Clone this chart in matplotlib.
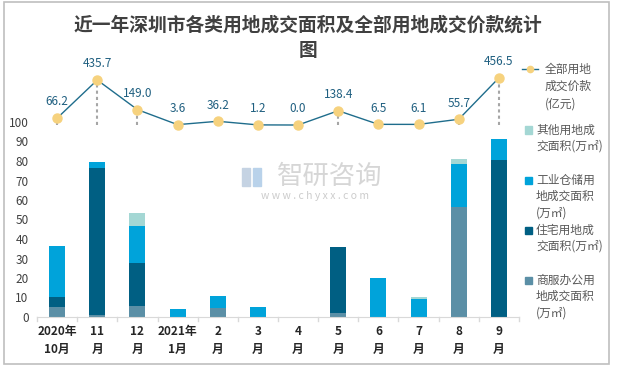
import numpy as np
import matplotlib.pyplot as plt
from matplotlib.patches import Rectangle
from matplotlib.lines import Line2D

plt.rcParams['font.family'] = ['Noto Sans CJK SC', 'DejaVu Sans']

# data
months = ["2020年\n10月", "11\n月", "12\n月", "2021年\n1月", "2\n月", "3\n月",
          "4\n月", "5\n月", "6\n月", "7\n月", "8\n月", "9\n月"]
commercial = [5.0, 0.9, 5.5, 0.0, 4.5, 0.0, 0.0, 2.1, 0.0, 0.0, 56.4, 0.0]
residential = [5.1, 75.6, 22.1, 0.0, 0.0, 0.0, 0.0, 33.7, 0.0, 0.0, 0.0, 80.6]
industrial = [26.3, 3.1, 19.1, 3.9, 6.1, 5.0, 0.0, 0.0, 19.9, 9.1, 22.2, 10.8]
other = [0.0, 0.0, 6.6, 0.0, 0.0, 0.0, 0.0, 0.0, 0.0, 1.0, 2.5, 0.0]
price = [66.2, 435.7, 149.0, 3.6, 36.2, 1.2, 0.0, 138.4, 6.5, 6.1, 55.7, 456.5]

c_com = "#5b8fa6"
c_res = "#005f83"
c_ind = "#00a3da"
c_oth = "#a4d7d4"
c_line = "#1f6d8c"
c_mark = "#f6d27e"

W, H = 618, 368
fig = plt.figure(figsize=(W / 100, H / 100), dpi=100)
fig.patches.append(Rectangle((4 / W, 1 - 364 / H), 605 / W, 362 / H, transform=fig.transFigure,
                             fill=False, edgecolor="#bfbfbf", linewidth=1.2))

ax = fig.add_axes([37 / W, 1 - 317 / H, 482 / W, 257 / H])
x = np.arange(len(months))
bw = 0.4
b = np.zeros(len(months))
for vals, col in [(commercial, c_com), (residential, c_res), (industrial, c_ind), (other, c_oth)]:
    ax.bar(x, vals, bw, bottom=b, color=col, zorder=2)
    b = b + np.array(vals)

ax.set_xlim(-0.5, len(months) - 0.5)
ax.set_ylim(0, 257 / 1.95)
ax.set_yticks(np.arange(0, 101, 10))
ax.tick_params(axis='y', length=0, labelsize=8.5, labelcolor="#404040", pad=6)
ax.set_xticks(x)
ax.set_xticklabels(months, fontsize=8.5, fontweight='bold', color="#262626", linespacing=1.5)
ax.tick_params(axis='x', length=0, pad=6)
for s in ['top', 'right', 'left']:
    ax.spines[s].set_visible(False)
ax.spines['bottom'].set_color("#d9d9d9")
for k in range(len(months) + 1):
    ax.plot([k - 0.5, k - 0.5], [0, -2], color="#d9d9d9", lw=1, clip_on=False)

# price line on its own scale
ax2 = ax.twinx()
span = 257 / 0.1033
ax2.set_ylim(-0.747 * span, 0.253 * span)
ax2.axis('off')
ax2.vlines(x, 0, price, colors="#a6a6a6", linestyles=(0, (1.5, 1.5)), lw=1.5, zorder=1)
ax2.plot(x, price, color=c_line, lw=1, marker='o', ms=6.5, mfc=c_mark, mec=c_mark, zorder=3)
for i, v in enumerate(price):
    ax2.annotate(f"{v:.1f}", (i, v), xytext=(0, 7), textcoords='offset points',
                 ha='center', va='bottom', fontsize=8.5, color="#1f5f80")

# title
fig.text(308 / W, 1 - 25 / H, "近一年深圳市各类用地成交面积及全部用地成交价款统计",
         ha='center', va='center', fontsize=13.5, fontweight='bold', color="#404040")
fig.text(308 / W, 1 - 50 / H, "图", ha='center', va='center', fontsize=13.5,
         fontweight='bold', color="#404040")

# watermark
fig.text(330 / W, 1 - 176 / H, "智研咨询", ha='center', va='center', fontsize=19,
         color="#cccccc", alpha=0.8)
fig.text(315 / W, 1 - 196 / H, "w w w . c h y x x . c o m", ha='center', va='center',
         fontsize=7.5, color="#cccccc")
fig.patches.append(Rectangle((242 / W, 1 - 186 / H), 8 / W, 18 / H, transform=fig.transFigure,
                             color="#c5d3e3"))
fig.patches.append(Rectangle((253 / W, 1 - 186 / H), 8 / W, 18 / H, transform=fig.transFigure,
                             color="#b9d2ea"))

# legend
lc = "#595959"
fig.lines.append(Line2D([522 / W, 538 / W], [1 - 69 / H] * 2, transform=fig.transFigure,
                        color=c_line, lw=1))
fig.lines.append(Line2D([530 / W], [1 - 69 / H], transform=fig.transFigure, marker='o',
                        ms=4.5, mfc=c_mark, mec=c_mark))
for j, t in enumerate(["全部用地", "成交价款", "(亿元)"]):
    fig.text(545 / W, 1 - (69 + j * 17.5) / H, t, va='center', fontsize=8.5, color=lc)

entries = [
    (130, c_oth, ["其他用地成", "交面积(万㎡)"]),
    (180, c_ind, ["工业仓储用", "地成交面积", "(万㎡)"]),
    (230, c_res, ["住宅用地成", "交面积(万㎡)"]),
    (280, c_com, ["商服办公用", "地成交面积", "(万㎡)"]),
]
for yy, col, lines in entries:
    fig.patches.append(Rectangle((525 / W, 1 - (yy + 3.5) / H), 7 / W, 7 / H,
                                 transform=fig.transFigure, color=col))
    for j, t in enumerate(lines):
        fig.text(536 / W, 1 - (yy + j * 16.5) / H, t, va='center', fontsize=8.5, color=lc)

fig.savefig("out.png", dpi=100)
